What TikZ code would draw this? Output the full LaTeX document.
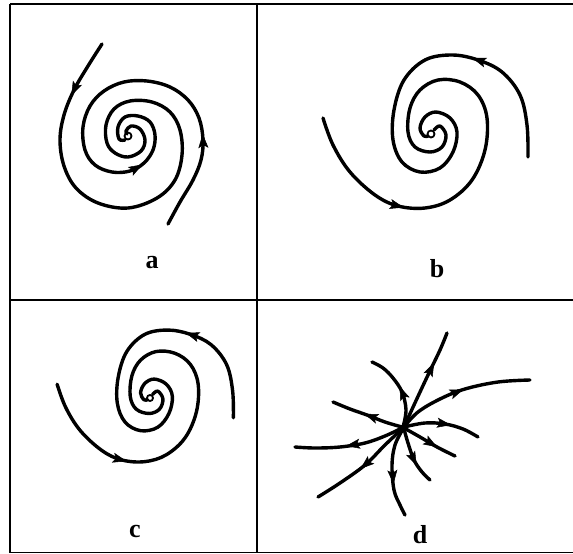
\documentclass[tikz,border=0pt]{standalone}
\usepackage{fontspec}
\setmainfont{Liberation Serif}
\usetikzlibrary{arrows.meta}
\tikzset{
  traj/.style={line width=3.4pt, line cap=round, line join=round},
  headarrow/.style={line width=3.4pt, -{Stealth[length=14pt,width=10pt,inset=3pt,line width=0.5pt]}},
  frame/.style={line width=1.6pt},
  lbl/.style={font=\fontsize{26}{30}\selectfont\bfseries, anchor=base, inner sep=0pt},
  centre/.style={line width=1.8pt}
}
\newcommand\bcfocus{%
  \draw[traj] plot[smooth,tension=0.6] coordinates {(97,23) (96,-9) (89,-39) (71,-62) (47,-74) (21,-79) (-6,-74) (-27,-54) (-37,-24) (-38,6) (-29,28) (-11,38) (9,34) (22,18) (26,-2) (19,-16) (5,-22) (-6,-17) (-11,-6) (-7,2) (-3,2)};
  \draw[traj] plot[smooth,tension=0.6] coordinates {(-108,-16) (-98,11) (-81,38) (-56,61) (-33,72) (-6,74) (19,66) (41,46) (54,16) (56,-16) (47,-39) (29,-52) (7,-54) (-11,-44) (-21,-26) (-23,-2) (-16,13) (-1,18) (11,13) (15,1) (9,-8) (3,-4)};
  \draw[centre] (0,0) circle (3.5);
  \draw[headarrow] (52.7,-72.1) -- (41.3,-75.9);
  \draw[headarrow] (-38.8,70.5) -- (-27.2,73.5);
}
\begin{document}
\begin{tikzpicture}[x=1pt,y=-1pt]
\fill[white] (0,0) rectangle (573,554);
\useasboundingbox (0,0) rectangle (573,554);
% frame
\draw[frame] (10,4) -- (573,4);
\draw[frame] (10,4) -- (10,553);
\draw[frame] (10,552.5) -- (573,552.5);
\draw[frame] (257,4) -- (257,553);
\draw[frame] (10,300) -- (573,300);
% panel a
\draw[traj] plot[smooth,tension=0.6] coordinates {(102,44) (88,66) (74,90) (64,115) (60,140) (64,166) (76,188) (98,203) (128,208) (157,198) (175,180) (182,155) (180,130) (170,112) (152,102) (130,101) (114,109) (106,125) (107,143) (115,153) (128,157) (141,151) (145,140) (140,129) (131,126) (126,131) (127,134)};
\draw[traj] plot[smooth,tension=0.6] coordinates {(168,224) (180,202) (193,180) (201,160) (203,140) (199,118) (188,100) (170,87) (147,81) (124,82) (104,91) (90,106) (83,127) (85,150) (95,165) (112,172) (130,171) (144,163) (153,150) (155,135) (150,122) (138,116) (125,117) (118,127) (119,139) (125,140)};
\draw[centre] (128,136) circle (3.5);
\draw[headarrow] (76.6,84.6) -- (71.4,95.4);
\draw[headarrow] (203.3,146) -- (202.7,134);
\draw[headarrow] (132,170.5) -- (142.5,164.5);
% panel b
\begin{scope}[shift={(431,134)}]
\bcfocus
\end{scope}
% panel c
\begin{scope}[shift={(150,398)},scale=0.86]
\bcfocus
\end{scope}
% panel d
\draw[traj] plot[smooth,tension=0.6] coordinates {(404,427) (414,405) (428,375) (440,350) (447,333)};
\draw[traj] plot[smooth,tension=0.6] coordinates {(404,427) (418,412) (440,399) (465,389) (498,382) (530,380)};
\draw[traj] plot[smooth,tension=0.6] coordinates {(404,427) (425,423) (445,424) (463,429) (478,437)};
\draw[traj] plot[smooth,tension=0.6] coordinates {(404,428) (420,437) (437,447) (455,456)};
\draw[traj] plot[smooth,tension=0.6] coordinates {(404,429) (408,443) (414,460) (422,472) (430,480)};
\draw[traj] plot[smooth,tension=0.6] coordinates {(403,429) (395,445) (392,465) (394,490) (400,505) (405,515)};
\draw[traj] plot[smooth,tension=0.6] coordinates {(402,429) (385,445) (365,465) (340,483) (318,497)};
\draw[traj] plot[smooth,tension=0.6] coordinates {(402,428) (385,436) (365,443) (340,447) (315,448) (295,447)};
\draw[traj] plot[smooth,tension=0.6] coordinates {(402,427) (385,422) (367,415) (350,409) (333,402)};
\draw[traj] plot[smooth,tension=0.6] coordinates {(403,427) (406,410) (402,392) (393,378) (383,368) (372,362)};
\draw[headarrow] (428.9,373.4) -- (434.1,362.6);
\draw[headarrow] (452.4,393.7) -- (463.6,389.3);
\draw[headarrow] (439,423) -- (451,425);
\draw[headarrow] (426.8,440.9) -- (437.2,447.1);
\draw[headarrow] (411.4,454.6) -- (416.6,465.4);
\draw[headarrow] (392.5,472) -- (393.5,484);
\draw[headarrow] (369.6,461.1) -- (360.4,468.9);
\draw[headarrow] (358,444) -- (346,446);
\draw[headarrow] (375.6,418.1) -- (364.4,413.9);
\draw[headarrow] (404.3,397.6) -- (399.7,386.4);
% labels
\node[lbl] (la) at (152,268) {a};
\node[lbl] (lb) at (437,277) {b};
\node[lbl] (lc) at (135,537) {c};
\node[lbl] (ld) at (420,543) {d};
\end{tikzpicture}
\end{document}
